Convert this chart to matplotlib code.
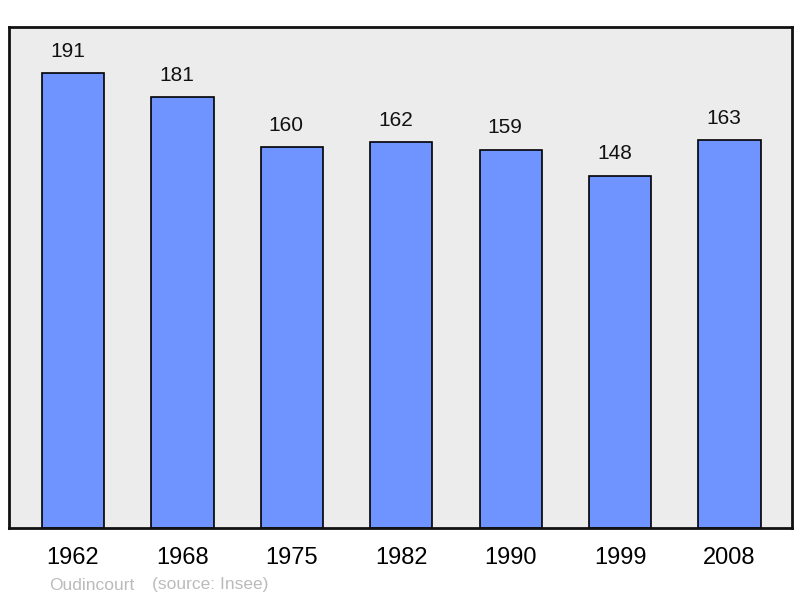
import matplotlib
matplotlib.use('Agg')
import matplotlib.pyplot as plt
import numpy as np

plt.rcParams['font.family'] = ['Liberation Sans', 'DejaVu Sans']

years = ['1962', '1968', '1975', '1982', '1990', '1999', '2008']
population = [191, 181, 160, 162, 159, 148, 163]

fig = plt.figure(figsize=(8, 5.98), dpi=100)
ax = fig.add_axes([9/800, 1 - 528/598, 783/800, 501/598])
ax.set_facecolor('#ececec')

x = np.arange(len(years))
ax.bar(x, population, width=0.57, color='#7094ff', edgecolor='black', linewidth=1.2, zorder=2)
for xi, v in zip(x, population):
    ax.annotate(str(v), (xi, v), xytext=(-4, 9), textcoords='offset points',
                ha='center', va='bottom', fontsize=15, color='#111111')

ax.set_xlim(-0.584, 6.57)
ax.set_ylim(0, 210.5)
ax.set_yticks([])
ax.set_xticks(x)
ax.set_xticklabels(years, fontsize=17)
ax.tick_params(axis='x', length=0, pad=14)
for s in ax.spines.values():
    s.set_linewidth(2)
    s.set_color('#111111')

fig.text(49/800, 1 - 585/598, 'Oudincourt', fontsize=12.5, color='#bbbbbb', va='center')
fig.text(152/800, 1 - 585/598, '(source: Insee)', fontsize=12.5, color='#bbbbbb', va='center')

fig.savefig('out.png', dpi=100)
